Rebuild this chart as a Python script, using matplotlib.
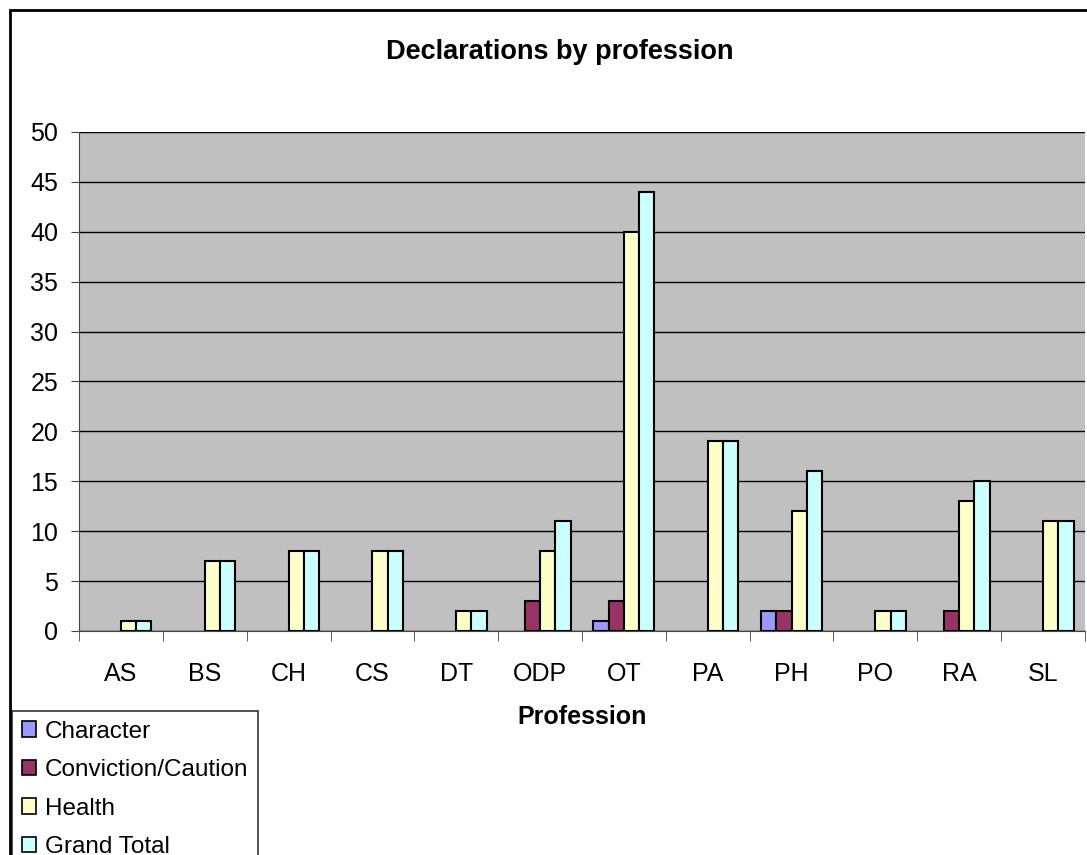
import numpy as np
import matplotlib.pyplot as plt
from matplotlib.patches import Rectangle

plt.rcParams['font.family'] = ['Liberation Sans', 'DejaVu Sans']

# Datos
professions = ['AS', 'BS', 'CH', 'CS', 'DT', 'ODP', 'OT', 'PA', 'PH', 'PO', 'RA', 'SL']
character = [0, 0, 0, 0, 0, 0, 1, 0, 2, 0, 0, 0]
conviction = [0, 0, 0, 0, 0, 3, 3, 0, 2, 0, 2, 0]
health = [1, 7, 8, 8, 2, 8, 40, 19, 12, 2, 13, 11]
grand_total = [1, 7, 8, 8, 2, 11, 44, 19, 16, 2, 15, 11]

series = [('Character', character, '#9999FF'),
          ('Conviction/Caution', conviction, '#993366'),
          ('Health', health, '#FFFFCC'),
          ('Grand Total', grand_total, '#CCFFFF')]

W, H = 1087, 855
fig = plt.figure(figsize=(W / 100, H / 100), dpi=100)
ax = fig.add_axes([79/W, (H - 631)/H, (1085 - 79)/W, (631 - 132)/H])
ax.set_facecolor('#C0C0C0')

x = np.arange(len(professions))
w = 1 / 5.5
handles = []
for i, (name, vals, col) in enumerate(series):
    vals = np.array(vals, dtype=float)
    off = (i - 1.5) * w
    m = vals > 0
    ax.bar(x[m] + off, vals[m], width=w, color=col, edgecolor='black', linewidth=1.5, zorder=3)
    handles.append(Rectangle((0, 0), 1, 1, facecolor=col, edgecolor='black', linewidth=1.2))

ax.set_xlim(-0.5, len(professions) - 0.5)
ax.set_ylim(0, 50)
ax.set_yticks(np.arange(0, 51, 5))
ax.yaxis.grid(True, color='black', linewidth=1)
ax.set_axisbelow(True)
ax.set_xticks(x)
ax.set_xticklabels(professions, fontsize=18)
ax.set_xticks(np.arange(-0.5, len(professions), 1), minor=True)
ax.tick_params(axis='x', which='major', length=0, pad=22)
ax.tick_params(axis='x', which='minor', length=7, direction='out', color='#444444')
ax.tick_params(axis='y', labelsize=18, length=6, direction='out', pad=9, color='#444444')
for s in ['top', 'right']:
    ax.spines[s].set_visible(False)
ax.spines['left'].set_color('#444444')
ax.spines['bottom'].set_color('#444444')

ax.set_xlabel('Profession', fontsize=18, fontweight='bold', labelpad=14)
fig.text(560/W, 1 - 52/H, 'Declarations by profession', ha='center', va='center',
         fontsize=19.5, fontweight='bold')

leg = fig.legend(handles, [s[0] for s in series], loc='upper left',
                 bbox_to_anchor=(12/W, 1 - 711/H), fontsize=17.5, frameon=True,
                 fancybox=False, handlelength=0.6, handleheight=0.6, handletextpad=0.35,
                 labelspacing=0.68, borderpad=0.4, borderaxespad=0)
leg.get_frame().set_edgecolor('black')
leg.get_frame().set_linewidth(1.2)

# borde exterior
fig.patches.append(Rectangle((10/W, -0.1), 1.2, 1 - 10/H + 0.1, transform=fig.transFigure,
                             fill=False, edgecolor='black', linewidth=2))

plt.savefig('out.png', dpi=100)
